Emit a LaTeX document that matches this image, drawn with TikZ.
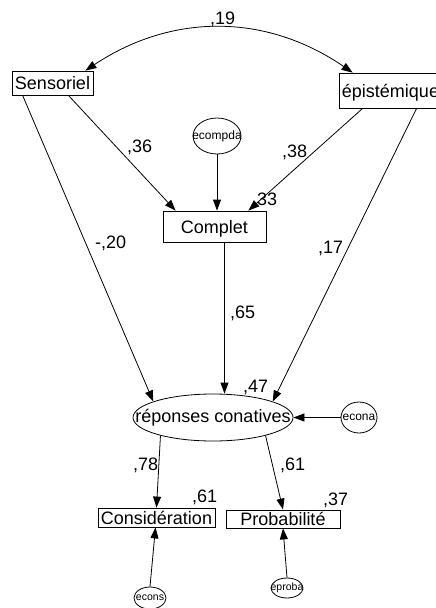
\documentclass[tikz,border=0pt]{standalone}
\usepackage{fontspec}
\setmainfont{Liberation Sans}
\usepackage{tikz}
\usetikzlibrary{arrows.meta,positioning,calc,shapes.geometric}
\newcommand{\zw}[1]{\makebox[0pt]{#1}}

\begin{document}
\begin{tikzpicture}[
  x=1pt,y=-1pt,
  font=\fontsize{18}{20}\selectfont,
  obs/.style={draw,line width=0.8pt,inner sep=0pt,text depth=0pt},
  lat/.style={draw,ellipse,line width=0.8pt,inner sep=0pt},
  resid/.style={draw,ellipse,line width=0.8pt,inner sep=0pt,
    font=\fontsize{12}{14}\selectfont},
  reg/.style={-{Triangle[length=11pt,width=8pt]},line width=0.8pt},
  cov/.style={{Triangle[length=11pt,width=8pt]}-{Triangle[length=11pt,width=8pt]},
    line width=0.8pt},
  coef/.style={anchor=base west,inner sep=0pt}
]
  \useasboundingbox (0,0) rectangle (436,608);
  \clip (0,0) rectangle (436,608);

  \node[obs,minimum width=81,minimum height=24] (sens) at (52.5,83) {Sensoriel};
  \node[obs,minimum width=103,minimum height=35] (epi) at (390.5,90.5) {épistémique};
  \node[resid,minimum width=48,minimum height=36] (ecomp) at (217,136) {\zw{ecompda}};
  \node[obs,minimum width=103,minimum height=31] (comp) at (214.5,226.5) {Complet};
  \node[lat,minimum width=160,minimum height=47] (rep) at (213,417.5)
    {\zw{réponses conatives}};
  \node[resid,minimum width=36,minimum height=31] (econa) at (359,417.5) {\zw{econa}};
  \node[obs,minimum width=117,minimum height=19] (cons) at (156.5,517.5) {Considération};
  \node[obs,minimum width=114,minimum height=18] (prob) at (283,519) {Probabilité};
  \node[resid,font=\fontsize{10.5}{12}\selectfont,minimum width=32,minimum height=22]
    (econs) at (150,598) {\zw{econs}};
  \node[resid,font=\fontsize{10.5}{12}\selectfont,minimum width=32,minimum height=20]
    (eproba) at (287,588) {\zw{eproba}};

  \draw[cov] ([xshift=-8pt]sens.north east) to[bend left=34] ([xshift=14pt]epi.north west);
  \draw[reg] ([xshift=-25pt]sens.south east) -- ([xshift=13pt]comp.north west);
  \draw[reg] ([xshift=24pt]epi.south west) -- ([xshift=-18pt]comp.north east);
  \draw[reg] (ecomp.south) -- (ecomp.south |- comp.north);
  \draw[reg] ([xshift=11pt]sens.south west) -- (rep.165);
  \draw[reg] ([xshift=78pt]epi.south west) -- (rep.15);
  \draw[reg] ([xshift=10pt]comp.south) -- ([xshift=10pt]comp.south |- rep.north);
  \draw[reg] (econa.west) -- (rep.east);
  \draw[reg] (rep.199) -- (cons.north);
  \draw[reg] (rep.341) -- (prob.north);
  \draw[reg] (econs.north) -- ([xshift=-1pt]cons.south);
  \draw[reg] (eproba.north) -- (prob.south);

  \node[coef] (c19) at (210,24) {,19};
  \node[coef] (c36) at (127,152) {,36};
  \node[coef] (c20) at (95,248) {-,20};
  \node[coef] (c38) at (282,157) {,38};
  \node[coef] (c33) at (252,205) {,33};
  \node[coef] (c17) at (318,253) {,17};
  \node[coef] (c65) at (230,318) {,65};
  \node[coef] (c47) at (243,392) {,47};
  \node[coef] (c78) at (133,470) {,78};
  \node[coef] (c61a) at (280,470) {,61};
  \node[coef] (c61b) at (192,502) {,61};
  \node[coef] (c37) at (323,505) {,37};
\end{tikzpicture}
\end{document}
